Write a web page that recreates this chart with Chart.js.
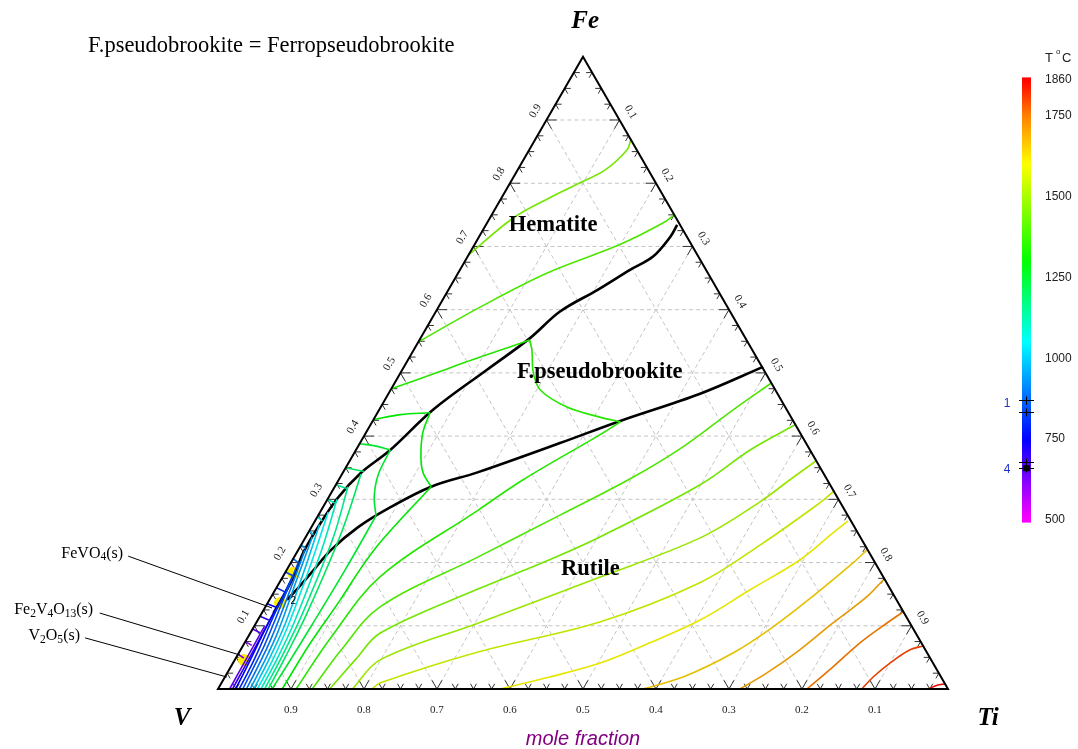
<!DOCTYPE html>
<html>
<head>
<meta charset="utf-8">
<script src="https://cdn.jsdelivr.net/npm/chart.js@4.4.0/dist/chart.umd.min.js"></script>
<style>
html,body{margin:0;padding:0;background:#fff;overflow:hidden}
canvas{display:block}
</style>
</head>
<body>
<canvas id="myChart" width="1078" height="749"></canvas>
<script>
// compositions are [x(Fe), x(Ti)] mole fractions, x(V) = 1 - x(Fe) - x(Ti)

// phase boundaries
var hemPseudoBoundary = [[0.734,0.262],[0.715,0.262],[0.684,0.254],[0.663,0.233],[0.631,0.204],[0.597,0.170],[0.555,0.150],[0.505,0.116],[0.442,0.074],[0.378,0.047],[0.342,0.025],[0.302,0.013],[0.256,0.009],[0.215,0.009],[0.184,0.014],[0.152,0.016],[0.120,0.016]];
var pseudoRutileBoundary = [[0.5095,0.492],[0.467,0.427],[0.424,0.339],[0.389,0.274],[0.343,0.185],[0.320,0.132],[0.288,0.093],[0.256,0.064],[0.220,0.045],[0.184,0.036],[0.160,0.030],[0.141,0.024]];

// isotherms, hematite field
var hem1450 = [[0.869,0.131],[0.853,0.134],[0.821,0.120],[0.801,0.096],[0.777,0.066],[0.745,0.032],[0.687,0.0]];
var hem1400 = [[0.750,0.250],[0.737,0.241],[0.703,0.199],[0.658,0.122],[0.604,0.057],[0.549,0.0]];
var hem1350 = [[0.552,0.151],[0.5285,0.104],[0.517,0.080],[0.502,0.053],[0.475,0.0]];
var hem1300 = [[0.437,0.072],[0.434,0.033],[0.426,0.0]];
var hem1250 = [[0.378,0.047],[0.3845,0.023],[0.388,0.0]];

// isotherms, ferropseudobrookite field
var pse1350 = [[0.552,0.151],[0.536,0.162],[0.500,0.182],[0.473,0.205],[0.446,0.255],[0.430,0.308],[0.4225,0.340]];
var pse1300 = [[0.437,0.072],[0.405,0.078],[0.367,0.0945],[0.342,0.110],[0.320,0.132]];
var pse1250 = [[0.378,0.047],[0.339,0.050],[0.304,0.062],[0.274,0.0795]];

// isotherms, rutile field
var rut1250 = [[0.274,0.0795],[0.19,0.080],[0.10,0.078],[0.04,0.076],[0,0.074]];
var rut1300 = [[0.320,0.132],[0.231,0.106],[0.188,0.100],[0.141,0.097],[0.07,0.090],[0,0.088]];
var rut1350 = [[0.4225,0.340],[0.402,0.322],[0.331,0.2525],[0.283,0.215],[0.177,0.133],[0.081,0.114],[0,0.107]];
var rut1400 = [[0.484,0.516],[0.4415,0.485],[0.383,0.4455],[0.335,0.401],[0.275,0.331],[0.209,0.252],[0.130,0.157],[0.062,0.138],[0,0.129]];
var rut1450 = [[0.418,0.5815],[0.378,0.540],[0.323,0.499],[0.2405,0.403],[0.198,0.342],[0.158,0.277],[0.0886,0.178],[0.046,0.165],[0,0.153]];
var rut1500 = [[0.361,0.639],[0.331,0.618],[0.296,0.5945],[0.239,0.541],[0.177,0.435],[0.104,0.304],[0.046,0.199],[0,0.184]];
var rut1550 = [[0.312,0.687],[0.291,0.675],[0.228,0.629],[0.168,0.576],[0.106,0.470],[0.0585,0.327],[0.0095,0.217],[0,0.211]];
var rut1600 = [[0.266,0.730],[0.247,0.719],[0.204,0.695],[0.157,0.6505],[0.109,0.606],[0.073,0.555],[0.041,0.503],[0.019,0.445],[0,0.386]];
var rut1650 = [[0.220,0.779],[0.199,0.770],[0.152,0.7445],[0.098,0.711],[0.057,0.677],[0.019,0.6275],[0,0.582]];
var rut1700 = [[0.1725,0.825],[0.146,0.816],[0.104,0.790],[0.062,0.766],[0.025,0.739],[0,0.715]];
var rut1750 = [[0.122,0.8775],[0.104,0.864],[0.073,0.843],[0.035,0.825],[0,0.807]];
var rut1800 = [[0.068,0.932],[0.062,0.917],[0.041,0.900],[0.019,0.888],[0,0.882]];
var rut1850 = [[0.008,0.992],[0.006,0.982],[0,0.973]];

// low temperature fan close to the V corner
var fan1200 = [[0.34,0.026],[0.25,0.045],[0.12,0.062],[0.05,0.067],[0,0.069]];
var fan1150 = [[0.32,0.018],[0.24,0.038],[0.12,0.056],[0.05,0.062],[0,0.064]];
var fan1100 = [[0.30,0.013],[0.22,0.032],[0.11,0.051],[0.05,0.057],[0,0.059]];
var fan1050 = [[0.28,0.011],[0.20,0.028],[0.10,0.046],[0.045,0.052],[0,0.054]];
var fan1000 = [[0.26,0.009],[0.19,0.024],[0.10,0.041],[0.04,0.047],[0,0.049]];
var fan950 = [[0.24,0.009],[0.17,0.022],[0.09,0.037],[0.04,0.042],[0,0.044]];
var fan900 = [[0.22,0.009],[0.16,0.020],[0.08,0.033],[0.035,0.037],[0,0.039]];
var fan850 = [[0.20,0.010],[0.14,0.019],[0.07,0.029],[0.03,0.032],[0,0.034]];
var fan800 = [[0.18,0.013],[0.12,0.018],[0.06,0.025],[0.025,0.028],[0,0.029]];
var fan750 = [[0.16,0.015],[0.10,0.017],[0.05,0.021],[0.02,0.023],[0,0.024]];
var fan700 = [[0.12,0.016],[0.07,0.018],[0.03,0.019],[0,0.020]];
var fan650 = [[0.10,0.014],[0.05,0.015],[0,0.016]];

// short isotherm pieces between the Fe-V side and the boundary
var edgeFe = [0.350,0.323,0.300,0.272,0.250,0.228,0.206,0.185,0.160,0.135,0.115,0.095,0.075,0.055];
var edgeInnerTi = [0.028,0.018,0.013,0.010,0.009,0.009,0.010,0.013,0.014,0.016,0.015,0.013,0.012,0.011];
var edgeT = [1200,1150,1100,1050,1000,950,900,850,800,750,700,650,600,600];

// yellow solid phase spots
var spots = [[0.1835,0.011],[0.136,0.017],[0.046,0.0126]];

// colour bar
var cbTicks = [1860,1750,1500,1250,1000,750,500];
var cbMarks = [871,834,679,660];
var cbMarkLabels = ['1','4'];
var cbMarkLabelT = [861,654];

var axisTicks = [0.1,0.2,0.3,0.4,0.5,0.6,0.7,0.8,0.9];
var phaseNames = ['Hematite','F.pseudobrookite','Rutile'];
var compoundNames = [
  [['FeVO',0],['4',1],['(s)',0]],
  [['Fe',0],['2',1],['V',0],['4',1],['O',0],['13',1],['(s)',0]],
  [['V',0],['2',1],['O',0],['5',1],['(s)',0]]
];

// ---------------------------------------------------------------
var S3 = Math.sqrt(3) / 2;
function tern(p) { return {x: p[1] + p[0] / 2, y: p[0] * S3}; }

var hueStops = [[500,300],[750,240],[1050,180],[1300,120],[1600,60],[1750,30],[1860,0]];
function tColor(T, light) {
  var h = T >= 1860 ? 0 : 300;
  for (var i = 0; i < hueStops.length - 1; i++) {
    var a = hueStops[i], b = hueStops[i + 1];
    if (T >= a[0] && T <= b[0]) { h = a[1] + (T - a[0]) / (b[0] - a[0]) * (b[1] - a[1]); break; }
  }
  return 'hsl(' + h.toFixed(1) + ',100%,' + (light || 50) + '%)';
}

var isotherms = [
  [hem1450,1450],[hem1400,1400],[hem1350,1350],[hem1300,1300],[hem1250,1250],
  [pse1350,1350],[pse1300,1300],[pse1250,1250],
  [rut1250,1250],[rut1300,1300],[rut1350,1350],[rut1400,1400],[rut1450,1450],[rut1500,1500],
  [rut1550,1550],[rut1600,1600],[rut1650,1650],[rut1700,1700],[rut1750,1750],[rut1800,1800],[rut1850,1850],
  [fan1200,1200],[fan1150,1150],[fan1100,1100],[fan1050,1050],[fan1000,1000],[fan950,950],
  [fan900,900],[fan850,850],[fan800,800],[fan750,750],[fan700,700],[fan650,650]
];

var datasets = [];
isotherms.forEach(function(c) {
  datasets.push({data: c[0].map(tern), showLine: true, borderColor: tColor(c[1], 45),
    borderWidth: 1.6, pointRadius: 0, tension: 0.35, fill: false, clip: false});
});
for (var i = 0; i < edgeFe.length; i++) {
  datasets.push({data: [tern([edgeFe[i], 0]), tern([edgeFe[i] - 0.006, edgeInnerTi[i]])], showLine: true,
    borderColor: tColor(edgeT[i], 45), borderWidth: 1.6, pointRadius: 0, clip: false});
}
[hemPseudoBoundary, pseudoRutileBoundary].forEach(function(b) {
  datasets.push({data: b.map(tern), showLine: true, borderColor: '#000', borderWidth: 2.6,
    pointRadius: 0, tension: 0.35, fill: false, clip: false});
});
datasets.push({data: spots.map(tern), showLine: false, pointRadius: 6, pointBackgroundColor: '#ffee00',
  pointBorderWidth: 0, clip: false});

// layout, in chart units (Ti + Fe/2, Fe*sqrt3/2)
var phaseAt = [[0.459,0.6356],[0.523,0.434],[0.510,0.164]];
var compoundTextAt = [[-0.130,0.185],[-0.171,0.108],[-0.189,0.0726]];
var leaderFrom = [[-0.123,0.182],[-0.162,0.104],[-0.182,0.070]];
var leaderTo = [[0.074,0.111],[0.030,0.0466],[0.0123,0.0164]];

function drawRich(ctx, parts, x, y, size) {
  var w = 0;
  parts.forEach(function(p) { ctx.font = (p[1] ? size * 0.72 : size) + 'px "Liberation Serif"'; w += ctx.measureText(p[0]).width; });
  var cx = x - w;
  ctx.textAlign = 'left';
  parts.forEach(function(p) {
    ctx.font = (p[1] ? size * 0.72 : size) + 'px "Liberation Serif"';
    ctx.fillText(p[0], cx, y + (p[1] ? size * 0.22 : 0));
    cx += ctx.measureText(p[0]).width;
  });
}

var ternaryFrame = {
  id: 'ternaryFrame',
  beforeDatasetsDraw: function(chart) {
    var ctx = chart.ctx, sx = chart.scales.x, sy = chart.scales.y;
    function P(f, t) { var q = tern([f, t]); return [sx.getPixelForValue(q.x), sy.getPixelForValue(q.y)]; }
    function seg(a, b) { ctx.beginPath(); ctx.moveTo(a[0], a[1]); ctx.lineTo(b[0], b[1]); ctx.stroke(); }
    ctx.save();
    ctx.strokeStyle = '#c4c4c4'; ctx.lineWidth = 1; ctx.setLineDash([4, 3]);
    axisTicks.forEach(function(g) {
      seg(P(g, 0), P(g, 1 - g));
      seg(P(0, g), P(1 - g, g));
      seg(P(0, 1 - g), P(1 - g, 0));
    });
    ctx.setLineDash([]);
    ctx.strokeStyle = '#333'; ctx.lineWidth = 1;
    var c60 = 0.5, s60 = S3;
    for (var k = 1; k < 40; k++) {
      var g = k / 40, L = (k % 4 === 0) ? 10 : 6, p;
      p = P(0, g); // bottom
      seg(p, [p[0] + L * c60, p[1] - L * s60]); seg(p, [p[0] - L * c60, p[1] - L * s60]);
      p = P(g, 0); // left
      seg(p, [p[0] + L, p[1]]); seg(p, [p[0] + L * c60, p[1] + L * s60]);
      p = P(g, 1 - g); // right
      seg(p, [p[0] - L, p[1]]); seg(p, [p[0] - L * c60, p[1] + L * s60]);
    }
    ctx.restore();
  },
  afterDatasetsDraw: function(chart) {
    var ctx = chart.ctx, sx = chart.scales.x, sy = chart.scales.y;
    function P(f, t) { var q = tern([f, t]); return [sx.getPixelForValue(q.x), sy.getPixelForValue(q.y)]; }
    function C(a) { return [sx.getPixelForValue(a[0]), sy.getPixelForValue(a[1])]; }
    ctx.save();
    // triangle
    var A = P(0, 0), B = P(0, 1), T = P(1, 0);
    ctx.strokeStyle = '#000'; ctx.lineWidth = 2;
    ctx.beginPath(); ctx.moveTo(A[0], A[1]); ctx.lineTo(B[0], B[1]); ctx.lineTo(T[0], T[1]); ctx.closePath(); ctx.stroke();

    // axis numbers
    ctx.fillStyle = '#222'; ctx.font = '11px "Liberation Serif"'; ctx.textAlign = 'center'; ctx.textBaseline = 'middle';
    axisTicks.forEach(function(g) {
      var lbl = g.toFixed(1), p;
      p = P(g, 0);
      ctx.save(); ctx.translate(p[0] - 11, p[1] - 9); ctx.rotate(-Math.PI / 3); ctx.fillText(lbl, 0, 0); ctx.restore();
      p = P(1 - g, g);
      ctx.save(); ctx.translate(p[0] + 11, p[1] - 8); ctx.rotate(Math.PI / 3); ctx.fillText(lbl, 0, 0); ctx.restore();
      p = P(0, 1 - g);
      ctx.fillText(lbl, p[0], p[1] + 21);
    });

    // corner names
    ctx.fillStyle = '#000'; ctx.font = 'bold italic 25px "Liberation Serif"';
    var q = C([0.503, 0.914]); ctx.fillText('Fe', q[0], q[1]);
    q = C([-0.049, -0.040]); ctx.fillText('V', q[0], q[1]);
    q = C([1.055, -0.040]); ctx.fillText('Ti', q[0], q[1]);
    ctx.fillStyle = '#800080'; ctx.font = 'italic 20px "Liberation Sans"';
    q = C([0.5, -0.0685]); ctx.fillText('mole fraction', q[0], q[1]);

    // phase fields
    ctx.fillStyle = '#000'; ctx.font = 'bold 22.5px "Liberation Serif"';
    phaseNames.forEach(function(n, i) { var r = C(phaseAt[i]); ctx.fillText(n, r[0], r[1]); });

    // title
    ctx.font = '22.5px "Liberation Serif"'; ctx.textAlign = 'left';
    q = C([-0.178, 0.881]); ctx.fillText('F.pseudobrookite = Ferropseudobrookite', q[0], q[1]);

    // compound labels with leaders
    ctx.strokeStyle = '#000'; ctx.lineWidth = 1;
    compoundNames.forEach(function(parts, i) {
      var tp = C(compoundTextAt[i]);
      drawRich(ctx, parts, tp[0], tp[1], 16);
      var a = C(leaderFrom[i]), b = C(leaderTo[i]);
      ctx.beginPath(); ctx.moveTo(a[0], a[1]); ctx.lineTo(b[0], b[1]); ctx.stroke();
    });
    ctx.font = '10px "Liberation Sans"'; ctx.textAlign = 'center';
    q = P(0.138, 0.034); ctx.fillText('2', q[0], q[1]);

    // colour bar
    var cbX = 1022, cbW = 9, yHi = 80, yLo = 520;
    function ty(v) { return yHi + (1860 - v) * (yLo - yHi) / (1860 - 500); }
    var grad = ctx.createLinearGradient(0, ty(1868), 0, ty(492));
    for (var v = 1868; v >= 492; v -= 17) grad.addColorStop((1868 - v) / (1868 - 492), tColor(v, 50));
    ctx.fillStyle = grad; ctx.fillRect(cbX, ty(1868), cbW, ty(492) - ty(1868));
    ctx.fillStyle = '#222'; ctx.font = '12px "Liberation Sans"'; ctx.textAlign = 'left';
    cbTicks.forEach(function(v) { ctx.fillText(String(v), 1045, ty(v)); });
    ctx.font = '13px "Liberation Sans"'; ctx.fillText('T', 1045, 58); ctx.font = '8px "Liberation Sans"'; ctx.fillText('o', 1056, 52);
    ctx.font = '13px "Liberation Sans"'; ctx.fillText('C', 1062, 58);
    ctx.strokeStyle = '#000'; ctx.lineWidth = 1;
    cbMarks.forEach(function(v) {
      var y = Math.round(ty(v)) + 0.5, xc = cbX + cbW / 2;
      ctx.beginPath(); ctx.moveTo(cbX - 3, y); ctx.lineTo(cbX + cbW + 3, y); ctx.moveTo(xc, y - 4); ctx.lineTo(xc, y + 4); ctx.stroke();
    });
    ctx.fillStyle = '#000'; ctx.fillRect(cbX + 1, ty(cbMarks[3]) - 3, cbW - 2, 6);
    ctx.fillStyle = '#2233cc'; ctx.font = '12px "Liberation Sans"'; ctx.textAlign = 'center';
    cbMarkLabels.forEach(function(l, i) { ctx.fillText(l, 1007, ty(cbMarkLabelT[i])); });
    ctx.restore();
  }
};

var ctx = document.getElementById('myChart').getContext('2d');
var myChart = new Chart(ctx, {
  type: 'scatter',
  data: {datasets: datasets},
  options: {
    responsive: false,
    animation: false,
    devicePixelRatio: 1,
    layout: {padding: 0, autoPadding: false},
    plugins: {legend: {display: false}, tooltip: {enabled: false}},
    scales: {
      x: {type: 'linear', display: false, min: -0.2986, max: 1.1781},
      y: {type: 'linear', display: false, min: -0.0822, max: 0.9438}
    }
  },
  plugins: [ternaryFrame]
});
</script>
</body>
</html>
